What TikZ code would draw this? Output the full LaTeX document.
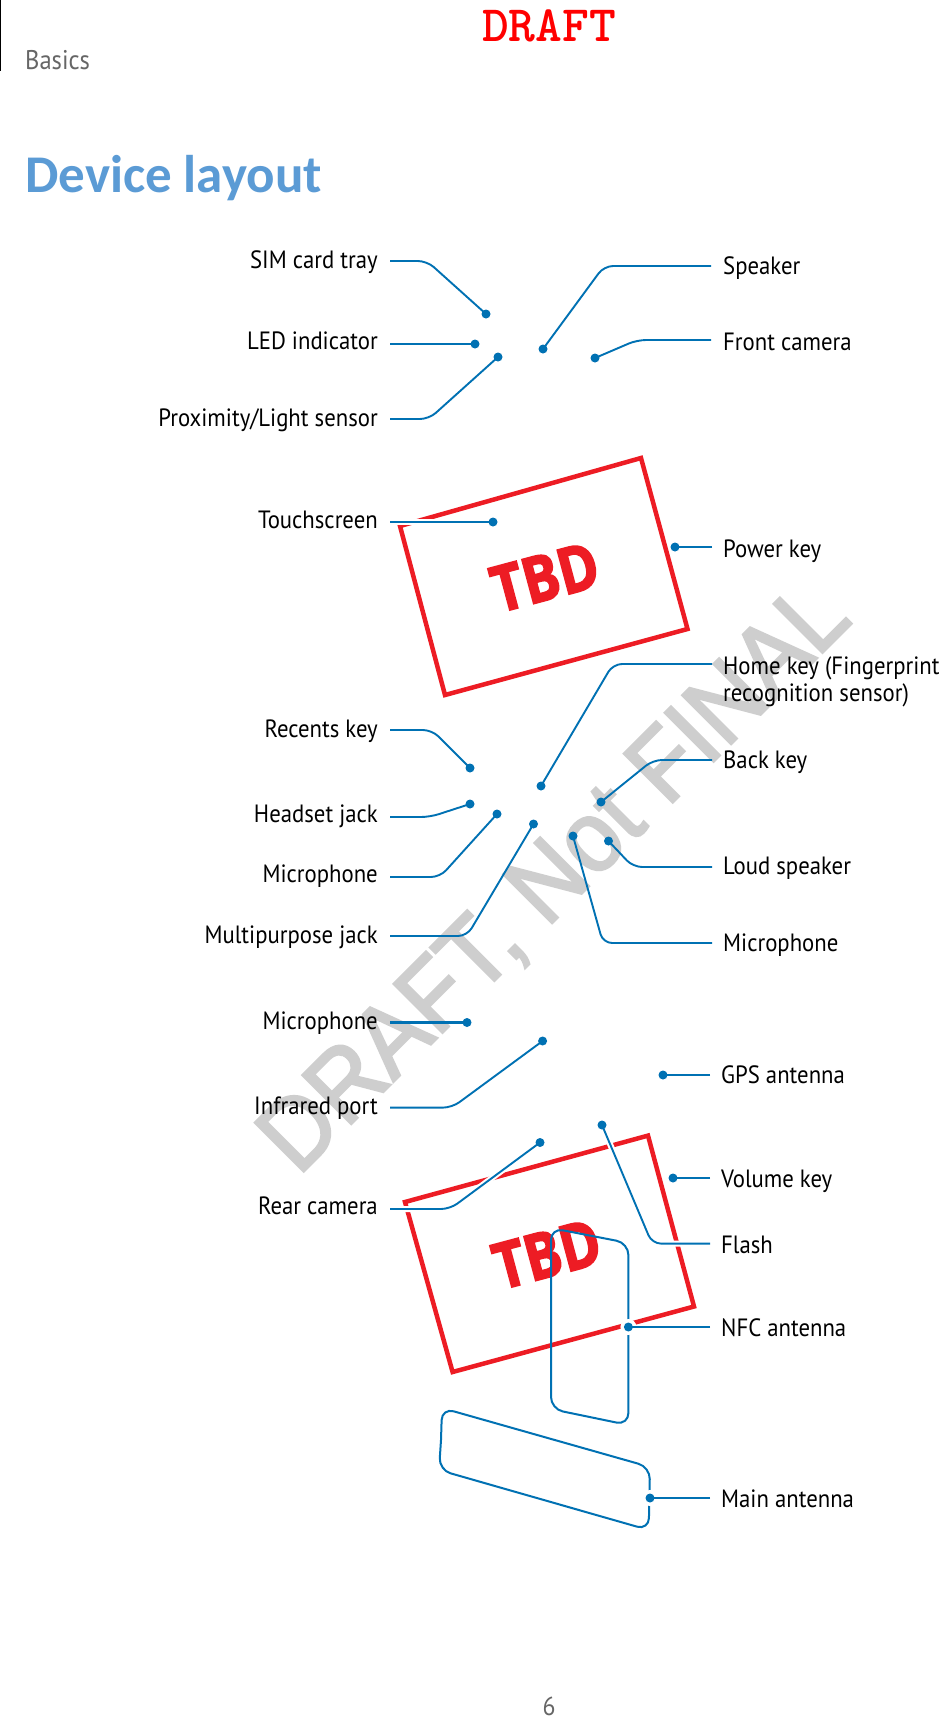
\documentclass[tikz,border=0pt]{standalone}
\usepackage{fontspec}
\setmainfont{PT Sans}[FakeStretch=0.91]
\newfontfamily\tbdfont{Open Sans}[BoldFont={Open Sans Bold},BoldFeatures={FakeStretch=0.85,FakeBold=2.5}]
\newfontfamily\titlefont{Carlito}
\newfontfamily\wmfont{Liberation Sans}[FakeStretch=0.93,FakeBold=2.5]
\definecolor{lead}{HTML}{0071B3}
\definecolor{redbox}{HTML}{ED1C24}
\definecolor{headblue}{HTML}{5B9BD5}
\definecolor{wm}{HTML}{CECECE}
\pgfdeclarelayer{front}
\pgfsetlayers{main,front}
\tikzset{
 dot/.style={circle,fill=lead,inner sep=0pt,minimum size=9pt},
 conn/.style={draw=lead,line width=1.9pt,rounded corners=9pt},
 halo/.style={preaction={draw=white,line width=6pt}},
 lab/.style={font=\fontsize{25}{27}\selectfont,text=black,inner sep=0pt},
 labl/.style={lab,anchor=base east},
 labr/.style={lab,anchor=base west},
 redshape/.style={draw=redbox,line width=4.5pt,miter limit=10},
 ant/.style={draw=lead,line width=2pt,rounded corners=12pt},
 tbd/.style={font=\tbdfont\bfseries\fontsize{64}{64}\selectfont,text=redbox,rotate=15,inner sep=0pt},
}
\begin{document}
\begin{tikzpicture}[x=1pt,y=-1pt]
\useasboundingbox (0,0) rectangle (939,1719);
\fill[white] (0,0) rectangle (939,1719);
% watermark
\node[font=\wmfont\fontsize{100}{100}\selectfont,text=wm,rotate=45,anchor=base,inner sep=0pt] (wmark) at (576,899) {DRAFT, Not FINAL};
% page furniture
\coordinate (ruleA) at (0.7,0);
\coordinate (ruleB) at (0.7,71);
\draw[black,line width=1.2pt] (ruleA) -- (ruleB);
\node[anchor=base west,inner sep=0pt,font=\fontsize{27}{27}\selectfont,text=black!60] (basics) at (25,69) {Basics};
\node[anchor=base,inner sep=0pt,font=\ttfamily\bfseries\fontsize{51}{51}\selectfont,text=red] (draft) at (549,41) {DRAFT};
\node[anchor=base west,inner sep=0pt,font=\titlefont\bfseries\fontsize{53}{53}\selectfont,text=headblue] (title) at (25,192) {Device layout};
\node[anchor=base,inner sep=0pt,font=\fontsize{26}{26}\selectfont,text=black!60] (pageno) at (549,1715) {6};
% red boxes
\draw[redshape] (641,458) -- (687.5,629) -- (445,695) -- (400,526) -- cycle;
\node[tbd] (tbdA) at (545,577) {TBD};
\draw[redshape] (648,1135.6) -- (694,1306.5) -- (452.6,1372) -- (405,1202) -- cycle;
\node[tbd] (tbdB) at (547,1254) {TBD};
% antennas
\draw[ant] (551,1300) -- (551,1228) -- (628.4,1243) -- (628.4,1425) -- (551,1409) -- (551,1300);
\draw[ant] (441,1440) -- (442,1408) -- (650,1467) -- (648.7,1530) -- (439,1470) -- (441,1440);
% labels
\node[labl] (lSIM) at (378,268) {SIM card tray};
\node[labl] (lLED) at (378,349) {LED indicator};
\node[labl] (lProx) at (378,426) {Proximity/Light sensor};
\node[labl] (lTouch) at (378,528) {Touchscreen};
\node[labl] (lRec) at (378,737) {Recents key};
\node[labl] (lHead) at (378,822) {Headset jack};
\node[labl] (lMicA) at (378,882) {Microphone};
\node[labl] (lMulti) at (378,943) {Multipurpose jack};
\node[labl] (lMicB) at (378,1029) {Microphone};
\node[labl] (lIR) at (378,1114) {Infrared port};
\node[labl] (lRear) at (378,1214) {Rear camera};
\node[labr] (lSpk) at (723,274) {Speaker};
\node[labr] (lFront) at (723,350) {Front camera};
\node[labr] (lPow) at (723,557) {Power key};
\node[labr,align=left,anchor=north west] (lHome) at (723,656) {Home key (Fingerprint\\recognition sensor)};
\node[labr] (lBack) at (723,768) {Back key};
\node[labr] (lLoud) at (723,874) {Loud speaker};
\node[labr] (lMicC) at (723,951) {Microphone};
\node[labr] (lGPS) at (721,1083) {GPS antenna};
\node[labr] (lVol) at (721,1187) {Volume key};
\node[labr] (lFlash) at (721,1253) {Flash};
\node[labr] (lNFC) at (721,1336) {NFC antenna};
\node[labr] (lMain) at (721,1507) {Main antenna};
% dots
\begin{pgfonlayer}{front}
\node[dot] (dSIM) at (486,314) {};
\node[dot] (dLED) at (475,344) {};
\node[dot] (dProx) at (498,357) {};
\node[dot] (dSpk) at (543,349) {};
\node[dot] (dFront) at (595,358) {};
\node[dot] (dTouch) at (493,522) {};
\node[dot] (dPow) at (675,547) {};
\node[dot] (dHome) at (541,786) {};
\node[dot] (dBack) at (601,802) {};
\node[dot] (dLoud) at (608.5,841) {};
\node[dot] (dMicC) at (573,836) {};
\node[dot] (dRec) at (470,768) {};
\node[dot] (dHead) at (470,804) {};
\node[dot] (dMicA) at (497,814) {};
\node[dot] (dMulti) at (533.5,824) {};
\node[dot] (dMicB) at (467,1022.5) {};
\node[dot] (dIR) at (542.6,1041) {};
\node[dot] (dGPS) at (663,1075) {};
\node[dot] (dRear) at (540,1142.5) {};
\node[dot] (dFlash) at (602,1125) {};
\node[dot] (dVol) at (673,1178) {};
\node[dot] (dNFC) at (628.4,1327) {};
\node[dot] (dMain) at (650,1498) {};
\end{pgfonlayer}
% white rings
\fill[white] (628.4,1327) circle (8);
\fill[white] (650,1498) circle (8);
% free ends
\coordinate (eSIM) at (390,261);
\coordinate (eLED) at (390,344);
\coordinate (eProx) at (390,419);
\coordinate (eSpk) at (711,266);
\coordinate (eFront) at (711,340);
\coordinate (eTouch) at (390,522);
\coordinate (ePow) at (712,547);
\coordinate (eHome) at (712,664);
\coordinate (eBack) at (712,760);
\coordinate (eLoud) at (712,867);
\coordinate (eMicC) at (712,943);
\coordinate (eRec) at (390,730);
\coordinate (eHead) at (390,817);
\coordinate (eMicA) at (390,877);
\coordinate (eMulti) at (390,936);
\coordinate (eMicB) at (390,1022.5);
\coordinate (eIR) at (390,1107.6);
\coordinate (eGPS) at (710,1075);
\coordinate (eRear) at (390,1209);
\coordinate (eFlash) at (710,1243.6);
\coordinate (eVol) at (710,1178);
\coordinate (eNFC) at (710,1327);
\coordinate (eMain) at (710,1498);
% connectors
\draw[conn] (eSIM) -- (427,261) -- (dSIM.center);
\draw[conn] (eLED) -- (dLED.center);
\draw[conn] (eProx) -- (429,419) -- (dProx.center);
\draw[conn] (eSpk) -- (604,266) -- (dSpk.center);
\draw[conn] (eFront) -- (637,340) -- (dFront.center);
\draw[conn,halo] (eTouch) -- (dTouch.center);
\draw[conn] (ePow) -- (dPow.center);
\draw[conn] (eHome) -- (613,664) -- (dHome.center);
\draw[conn] (eBack) -- (653,760) -- (dBack.center);
\draw[conn] (eLoud) -- (633,867) -- (dLoud.center);
\draw[conn] (eMicC) -- (603,943) -- (dMicC.center);
\draw[conn] (eRec) -- (432,730) -- (dRec.center);
\draw[conn] (eHead) -- (430,817) -- (dHead.center);
\draw[conn] (eMicA) -- (440,877) -- (dMicA.center);
\draw[conn] (eMulti) -- (467,936) -- (dMulti.center);
\draw[conn,line width=2.6pt] (eMicB) -- (dMicB.center);
\draw[conn] (eIR) -- (452,1107.6) -- (dIR.center);
\draw[conn] (eGPS) -- (dGPS.center);
\draw[conn,halo] (eRear) -- (450,1209) -- (dRear.center);
\draw[conn,halo] (eFlash) -- (652,1243.6) -- (dFlash.center);
\draw[conn] (eVol) -- (dVol.center);
\draw[conn] (eNFC) -- (dNFC.center);
\draw[conn] (eMain) -- (dMain.center);
\end{tikzpicture}
\end{document}
